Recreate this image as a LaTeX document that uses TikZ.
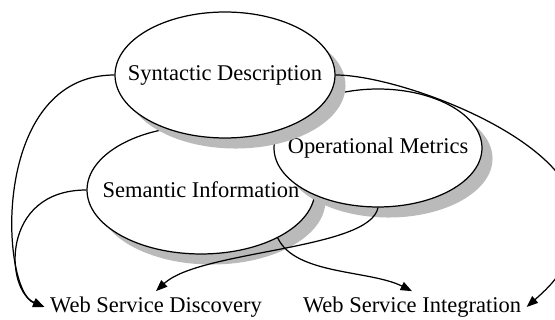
\documentclass[tikz,border=0pt]{standalone}
\usepackage{fontspec}
\setmainfont{Liberation Serif}
\usepackage{tikz}
\usetikzlibrary{arrows.meta, shapes.geometric, shadows}
\tikzset{ellip/.style = {ellipse, draw, fill=white, line width=0.7pt, inner sep=0pt,
    general shadow={fill=black!27, shadow xshift=6pt, shadow yshift=-6pt}},
  lbl/.style = {inner sep=3pt},
  conn/.style = {line width=0.7pt, -{Triangle[length=6.5pt,width=5pt]}}}

\begin{document}
\begin{tikzpicture}[x=0.02cm, y=-0.02cm, font=\fontsize{12.8}{15}\selectfont]
  \clip (0,0) rectangle (555,320);

  \draw node[ellip, minimum width=4.56cm, minimum height=2.56cm] (sem) at (201,190) {\makebox[0pt]{Semantic Information}};
  \draw node[ellip, minimum width=4.16cm, minimum height=2.36cm] (ope) at (378,148) {\makebox[0pt]{Operational Metrics}};
  \draw node[ellip, minimum width=4.4cm, minimum height=2.52cm] (syn) at (225,75) {\makebox[0pt]{Syntactic Description}};

  \draw node[lbl] (disc) at (156,307) {Web Service Discovery};
  \draw node[lbl] (integ) at (412,307) {Web Service Integration};

  \draw[conn] (syn.west) .. controls (-10,75) and (0,290) .. (disc.west);
  \draw[conn] (sem.west) .. controls (0,190) and (5,290) .. (disc.west);
  \draw[conn] (ope.south) .. controls (370,250) and (200,250) .. (disc.north);
  \draw[conn] (sem.-32) .. controls (295,275) and (370,270) .. (integ.north);
  \draw[conn] (syn.east) .. controls (400,75) and (575,140) .. (575,215)
    .. controls (575,262) and (555,282) .. (integ.east);

\end{tikzpicture}
\end{document}
